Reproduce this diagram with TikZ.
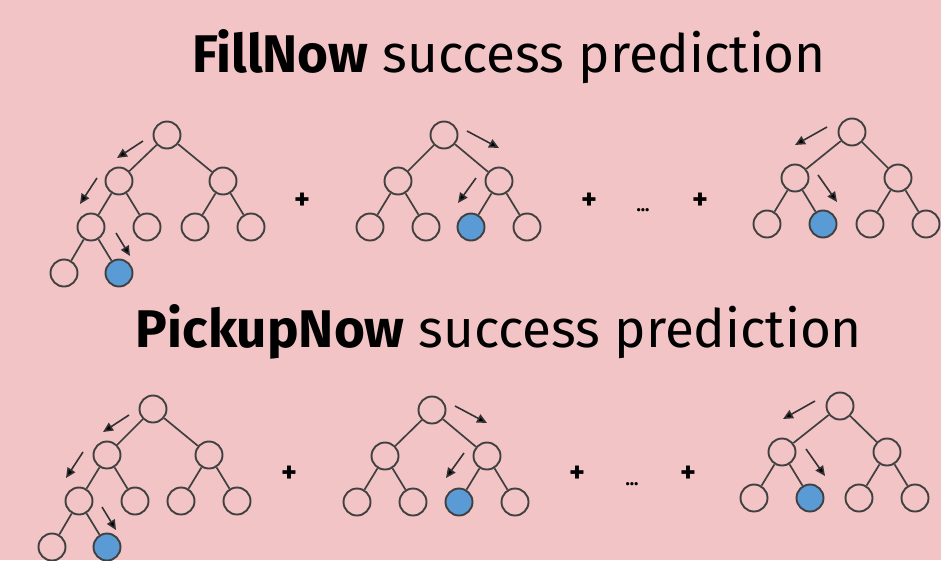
\documentclass[tikz,border=0pt]{standalone}
\usepackage{fontspec}
\setmainfont{Fira Sans}
\usetikzlibrary{arrows.meta,calc}
\definecolor{blush}{RGB}{242,196,198}
\definecolor{ink}{RGB}{64,64,64}
\definecolor{sky}{RGB}{91,155,213}
\tikzset{
  >={Triangle[length=10pt,width=9pt,fill=black]},
  vertex/.style={circle,draw=ink,line width=1.9pt,minimum size=27pt,inner sep=0pt},
  goal/.style={vertex,fill=sky},
  edge/.style={draw=ink,line width=1.7pt},
  hint/.style={->,line width=1.6pt,draw=ink!80!black},
  title/.style={font=\fontsize{53}{60}\selectfont,anchor=base},
  op/.style={font=\fontsize{30}{34}\selectfont\bfseries},
  leaf aa/.style={vertex},
  leaf ab/.style={vertex},
  leaf ba/.style={vertex},
  leaf bb/.style={vertex},
  % full tree of depth 2, #1/#2 = spread of left/right child
  pics/tree/.style n args={2}{code={
    \node[vertex] (r) at (0,0) {};
    \node[vertex] (a) at (-#1,46) {};
    \node[vertex] (b) at (#2,46) {};
    \node[leaf aa] (aa) at (-#1-28,92) {};
    \node[leaf ab] (ab) at (-#1+28,92) {};
    \node[leaf ba] (ba) at (#2-28,92) {};
    \node[leaf bb] (bb) at (#2+28,92) {};
    \draw[edge] (r) -- (a) (r) -- (b) (a) -- (aa) (a) -- (ab) (b) -- (ba) (b) -- (bb);
  }},
}

\begin{document}
\begin{tikzpicture}[x=1pt,y=-1pt]
  \fill[blush] (0,0) rectangle (941,560);
  \useasboundingbox (0,0) rectangle (941,560);

  \node[title] (fill) at (509,72) {\textbf{FillNow} success prediction};
  \node[title] (pick) at (499,347) {\textbf{PickupNow} success prediction};

  % top row
  \pic (t1) at (167,135) {tree={48}{56}};
  \pic[leaf ba/.style={goal}] (t2) at (444,135) {tree={46}{55}};
  \pic[leaf ab/.style={goal}] (t3) at (852,132) {tree={57}{46}};
  % bottom row
  \pic (t4) at (153,409) {tree={46}{56}};
  \pic[leaf ba/.style={goal}] (t5) at (432,410) {tree={47}{55}};
  \pic[leaf ab/.style={goal}] (t6) at (840,406) {tree={58}{47}};

  % deeper branch of the first trees
  \foreach \n in {t1,t4}{
    \node[vertex] (\n aaa) at ($(\n aa)+(-27,46)$) {};
    \node[goal] (\n aab) at ($(\n aa)+(28,46)$) {};
    \draw[edge] (\n aa) -- (\n aaa) (\n aa) -- (\n aab);
    \draw[hint] ($(\n r)+(-24,6)$) -- ($(\n r)+(-50,23)$);
    \draw[hint] ($(\n r)+(-70,43)$) -- ($(\n r)+(-87,69)$);
    \draw[hint] ($(\n r)+(-51,98)$) -- ($(\n r)+(-37,121)$);
  }
  \foreach \n in {t2,t5}{
    \draw[hint] ($(\n r)+(23,-4)$) -- ($(\n r)+(55,13)$);
    \draw[hint] ($(\n r)+(32,43)$) -- ($(\n r)+(14,68)$);
  }
  \foreach \n in {t3,t6}{
    \draw[hint] ($(\n r)+(-25,-5)$) -- ($(\n r)+(-57,13)$);
    \draw[hint] ($(\n r)+(-34,43)$) -- ($(\n r)+(-15,70)$);
  }

  % sums
  \node[op] (s1) at (302,201) {+};
  \node[op] (s2) at (589,201) {+};
  \node[op,font=\fontsize{18}{20}\selectfont\bfseries] (s3) at (643,210) {...};
  \node[op] (s4) at (700,201) {+};
  \node[op] (s5) at (289,474) {+};
  \node[op] (s6) at (577,474) {+};
  \node[op,font=\fontsize{18}{20}\selectfont\bfseries] (s7) at (632,484) {...};
  \node[op] (s8) at (688,474) {+};
\end{tikzpicture}
\end{document}
